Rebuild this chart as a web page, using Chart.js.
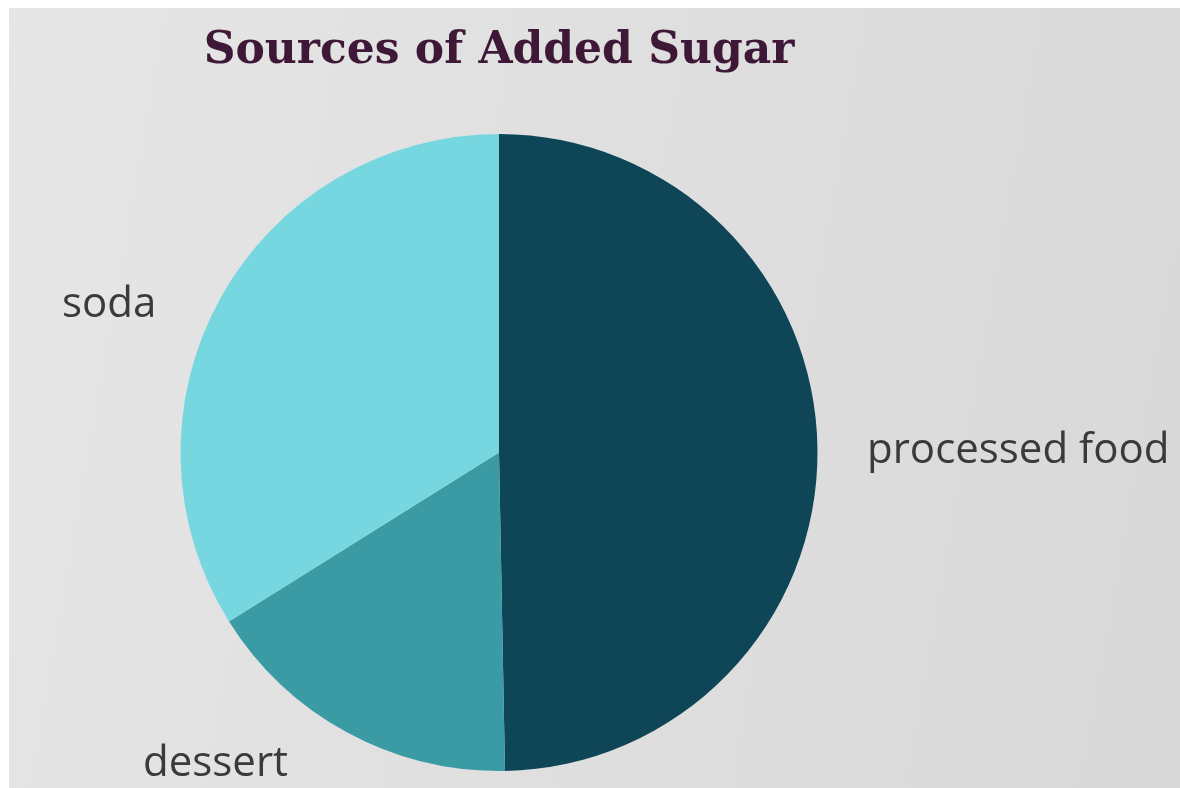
<!DOCTYPE html>
<html>
<head>
<meta charset="utf-8">
<script src="https://cdn.jsdelivr.net/npm/chart.js@4/dist/chart.umd.min.js"></script>
<style>
    html, body { margin: 0; padding: 0; background: #ffffff; }
    #frame {
        position: absolute; left: 9px; top: 8px; width: 1171px; height: 780px;
        background: linear-gradient(100deg, #e6e6e6 0%, #dfdfdf 50%, #d8d8d8 100%);
        overflow: hidden;
    }
    #title {
        position: absolute; left: 0; width: 980px; top: 14px; text-align: center;
        font-family: "DejaVu Serif", serif; font-weight: bold; font-size: 44px;
        color: #3f1838; margin: 0;
    }
    #chartBox { position: absolute; left: 0; top: 0; width: 1171px; height: 780px; }
</style>
</head>
<body>
<div id="frame">
    <div id="chartBox"><canvas id="sugarChart"></canvas></div>
    <h1 id="title">Sources of Added Sugar</h1>
</div>
<script>
// --- datos del gráfico ---
const sources = ['processed food', 'dessert', 'soda'];
const shares = [49.7, 16.4, 33.9];
const sliceColors = ['#0e4657', '#3a9ba5', '#77d7e0'];

// posición de cada etiqueta respecto al centro del pastel (px)
const labelOffsets = [[368, 10], [-356, 323], [-437, -136]];

const sliceLabels = {
    id: 'sliceLabels',
    afterDatasetsDraw(chart) {
        const ctx = chart.ctx;
        const arcs = chart.getDatasetMeta(0).data;
        ctx.save();
        ctx.font = '42px "Open Sans", sans-serif';
        ctx.fillStyle = '#3a3a3a';
        ctx.textAlign = 'left';
        ctx.textBaseline = 'alphabetic';
        arcs.forEach((arc, i) => {
            const [dx, dy] = labelOffsets[i];
            ctx.fillText(chart.data.labels[i], arc.x + dx, arc.y + dy);
        });
        ctx.restore();
    }
};

const ctx = document.getElementById('sugarChart').getContext('2d');
new Chart(ctx, {
    type: 'pie',
    data: {
        labels: sources,
        datasets: [{
            data: shares,
            backgroundColor: sliceColors,
            borderWidth: 0
        }]
    },
    options: {
        responsive: true,
        maintainAspectRatio: false,
        animation: false,
        layout: { padding: { left: 171, right: 362, top: 126, bottom: 17 } },
        plugins: {
            legend: { display: false },
            tooltip: { enabled: false }
        }
    },
    plugins: [sliceLabels]
});
</script>
</body>
</html>
